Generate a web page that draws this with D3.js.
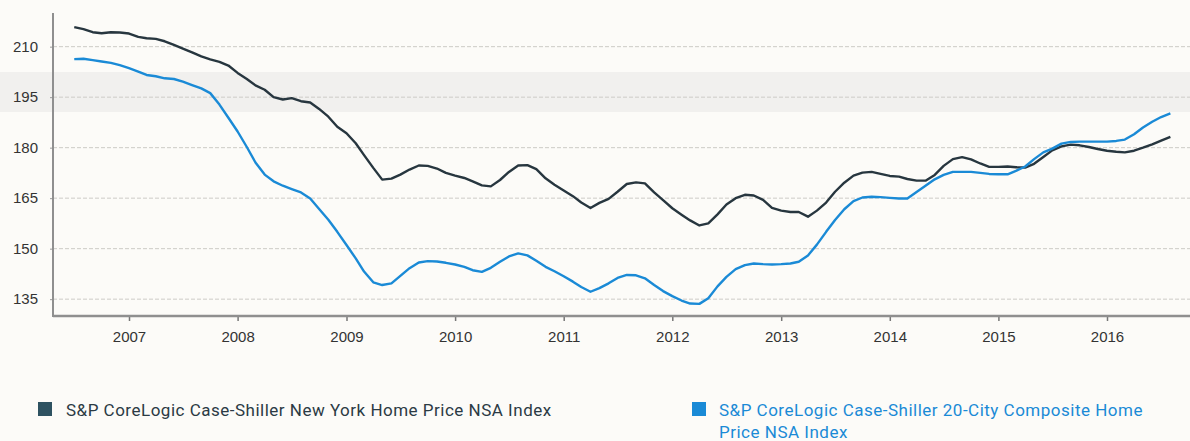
<!DOCTYPE html>
<html lang="en">
<head>
<meta charset="UTF-8">
<title>Case-Shiller</title>
<script src="https://d3js.org/d3.v7.min.js"></script>
<style>
  body { margin: 0; background: #fcfbf8; }
  svg { display: block; font-family: Roboto, "DejaVu Sans", sans-serif; }
</style>
</head>
<body>
<script>
// monthly, Jul 2006 .. Aug 2016
let months = d3.timeMonth.range(new Date(2006, 6, 1), new Date(2016, 8, 2));

let newYork = [
  215.8, 215.2, 214.3, 214.0, 214.3, 214.2, 213.9, 212.9, 212.5, 212.3, 211.6, 210.5,
  209.4, 208.3, 207.1, 206.2, 205.5, 204.4, 202.2, 200.4, 198.5, 197.2, 195.0, 194.3,
  194.7, 193.8, 193.4, 191.5, 189.2, 186.2, 184.3, 181.3, 177.8, 174.0, 170.5, 170.8,
  172.0, 173.5, 174.7, 174.6, 173.8, 172.5, 171.7, 171.0, 170.0, 168.8, 168.5, 170.4,
  172.8, 174.7, 174.8, 173.6, 170.9, 169.0, 167.3, 165.6, 163.7, 162.1, 163.6, 164.8,
  166.9, 169.2, 169.7, 169.4, 166.7, 164.4, 162.0, 160.1, 158.4, 156.9, 157.5, 160.2,
  163.1, 165.0, 166.0, 165.8, 164.5, 162.1, 161.3, 160.9, 160.9, 159.5, 161.3, 163.7,
  166.9, 169.6, 171.7, 172.6, 172.8, 172.2, 171.6, 171.4, 170.7, 170.2, 170.2, 171.9,
  174.6, 176.6, 177.2, 176.5, 175.3, 174.3, 174.3, 174.4, 174.2, 174.1, 175.2, 177.2,
  179.2, 180.4, 180.9, 180.7, 180.2, 179.6, 179.1, 178.8, 178.6, 179.1, 180.0, 181.0,
  182.1, 183.2
];

let composite20 = [
  206.3, 206.4, 206.0, 205.6, 205.2, 204.5, 203.6, 202.6, 201.6, 201.2, 200.6, 200.4,
  199.6, 198.6, 197.6, 196.2, 192.8, 188.9, 184.8, 180.2, 175.6, 172.0, 170.0, 168.7,
  167.7, 166.7, 164.9, 161.8, 158.6, 155.0, 151.1, 147.1, 143.2, 140.0, 139.2, 139.7,
  141.9, 144.2, 145.9, 146.3, 146.2, 145.8, 145.3, 144.6, 143.6, 143.1, 144.3, 146.1,
  147.7, 148.6, 148.0, 146.4, 144.6, 143.3, 141.8, 140.2, 138.6, 137.2, 138.3, 139.7,
  141.3, 142.2, 142.1, 141.2, 139.2, 137.4, 135.9, 134.6, 133.7, 133.6, 135.3, 138.8,
  141.6, 143.9, 145.1, 145.6, 145.4, 145.3, 145.4, 145.6, 146.1, 148.0, 151.2, 155.0,
  158.5, 161.7, 164.1, 165.2, 165.4, 165.3, 165.1, 164.9, 164.9, 166.8, 168.7, 170.6,
  171.9, 172.8, 172.8, 172.8, 172.5, 172.2, 172.1, 172.1, 173.1, 174.4, 176.6, 178.6,
  179.7, 181.2, 181.7, 181.8, 181.8, 181.8, 181.8, 182.0, 182.4, 184.0, 186.0, 187.7,
  189.1, 190.2
];

let yTicks = [135, 150, 165, 180, 195, 210];
let years = [2007, 2008, 2009, 2010, 2011, 2012, 2013, 2014, 2015, 2016];

let seriesNames = [
  'S&P CoreLogic Case-Shiller New York Home Price NSA Index',
  'S&P CoreLogic Case-Shiller 20-City Composite Home Price NSA Index'
];
let colors = ['#27363f', '#1a8ad6'];

let width = 1190, height = 441;
let m = { left: 53, right: 1190, top: 13, bottom: 316 };

let svg = d3.select('body').append('svg')
  .attr('width', width)
  .attr('height', height);

// faint scanner band
svg.append('rect')
  .attr('x', 0).attr('y', 72).attr('width', width).attr('height', 40)
  .style('fill', '#f1f0ee');

let x = d3.scaleTime()
  .domain([new Date(2007, 0, 1), new Date(2016, 0, 1)])
  .range([129, 1107]);

let y = d3.scaleLinear()
  .domain([130, 220])
  .range([m.bottom, m.top]);

// grid
svg.append('g').selectAll('line').data(yTicks).enter().append('line')
  .attr('x1', m.left).attr('x2', m.right)
  .attr('y1', d => y(d)).attr('y2', d => y(d))
  .style('stroke', '#cdcbc7')
  .style('stroke-width', 1)
  .style('stroke-dasharray', '4,2');

// y axis
let yAxis = svg.append('g')
  .attr('transform', `translate(${m.left},0)`)
  .call(d3.axisLeft(y).tickValues(yTicks).tickSize(3).tickPadding(12));
yAxis.select('.domain').remove();
yAxis.selectAll('line').style('stroke', '#999');
yAxis.selectAll('text').style('font-size', '15px').style('fill', '#333');

svg.append('line')
  .attr('x1', m.left).attr('x2', m.left).attr('y1', m.top).attr('y2', m.bottom + 1)
  .style('stroke', '#8f8f8f').style('stroke-width', 2);

// x axis
let xAxis = svg.append('g')
  .attr('transform', `translate(0,${m.bottom})`)
  .call(d3.axisBottom(x)
    .tickValues(years.map(yr => new Date(yr, 0, 1)))
    .tickFormat(d3.timeFormat('%Y'))
    .tickSize(5).tickPadding(10));
xAxis.select('.domain').remove();
xAxis.selectAll('line').style('stroke', '#777').style('stroke-width', 1.5);
xAxis.selectAll('text').style('font-size', '15px').style('fill', '#333');

svg.append('line')
  .attr('x1', m.left).attr('x2', m.right).attr('y1', m.bottom).attr('y2', m.bottom)
  .style('stroke', '#8f8f8f').style('stroke-width', 2.5);

// lines
let line = d3.line()
  .x((d, i) => x(months[i]))
  .y(d => y(d));

[newYork, composite20].forEach((s, k) => {
  svg.append('path')
    .datum(s)
    .attr('d', line)
    .style('fill', 'none')
    .style('stroke', colors[k])
    .style('stroke-width', 2.4)
    .style('stroke-linejoin', 'round');
});

// legend
let lg = svg.append('g')
  .style('font-size', '17px')
  .style('letter-spacing', '0.5px');
lg.append('rect').attr('x', 38).attr('y', 402).attr('width', 14).attr('height', 14)
  .style('fill', '#2e5261');
lg.append('text').attr('x', 66).attr('y', 416)
  .text(seriesNames[0])
  .style('fill', '#2b3a44');

lg.append('rect').attr('x', 692).attr('y', 402).attr('width', 14).attr('height', 14)
  .style('fill', colors[1]);
let t2 = lg.append('text').attr('x', 719).attr('y', 416)
  .style('fill', colors[1]);
t2.append('tspan').attr('x', 719).text('S&P CoreLogic Case-Shiller 20-City Composite Home');
t2.append('tspan').attr('x', 719).attr('dy', 22).text('Price NSA Index');
</script>
</body>
</html>
